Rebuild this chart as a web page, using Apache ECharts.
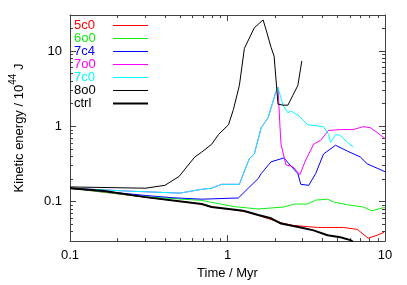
<!DOCTYPE html>
<html><head><meta charset="utf-8">
<script src="https://cdn.jsdelivr.net/npm/echarts@6/dist/echarts.min.js"></script>
<style>html,body{margin:0;padding:0;background:#fff}#c{width:407px;height:285px}</style>
</head><body><div id="c"></div>
<script>
// ---- data (time in Myr, kinetic energy in 1e44 J) ----
var t5c0 = [0.1, 0.301, 0.686, 0.793, 1.107, 1.415, 1.811, 2.283, 2.64, 3.73, 5.45, 6.67, 7.82, 8.91, 9.86];
var e5c0 = [0.151, 0.115, 0.093, 0.085, 0.078, 0.0713, 0.0596, 0.0513, 0.0483, 0.0455, 0.0455, 0.0429, 0.0328, 0.0359, 0.0392];

var t6o0 = [0.1, 0.301, 0.686, 0.793, 0.958, 1.107, 1.567, 2.283, 2.64, 3.23, 3.63, 4.32, 4.71, 5.77, 7.28, 8.28, 9.71, 10];
var e6o0 = [0.151, 0.116, 0.104, 0.098, 0.091, 0.086, 0.080, 0.085, 0.093, 0.093, 0.105, 0.108, 0.099, 0.091, 0.085, 0.0757, 0.083, 0.083];

var t7c4 = [0.1, 0.301, 0.445, 0.686, 1.172, 1.355, 1.567, 1.637, 1.89, 2.283, 2.455, 2.797, 2.918, 3.28, 3.63, 4.07, 4.85, 5.77, 6.97, 7.71, 10];
var e7c4 = [0.151, 0.121, 0.113, 0.108, 0.112, 0.151, 0.203, 0.236, 0.338, 0.381, 0.318, 0.236, 0.17, 0.165, 0.236, 0.429, 0.561, 0.469, 0.392, 0.318, 0.25];

var t7o0 = [0.1, 0.238, 0.5, 0.686, 0.793, 0.917, 1.189, 1.374, 1.479, 1.637, 1.811, 2.033, 2.093, 2.155, 2.187, 2.349, 2.60, 2.878, 3.14, 3.52, 3.90, 4.38, 5.21, 6.29, 7.28, 8.05, 8.91, 10];
var e7o0 = [0.151, 0.138, 0.130, 0.146, 0.151, 0.17, 0.17, 0.37, 0.429, 0.96, 1.30, 2.91, 3.28, 0.96, 0.578, 0.309, 0.291, 0.228, 0.359, 0.578, 0.652, 0.88, 0.906, 0.906, 0.99, 0.96, 0.83, 0.69];

var t7c0 = [0.1, 0.238, 0.5, 0.686, 0.793, 0.917, 1.189, 1.374, 1.479, 1.637, 1.811, 2.033, 2.093, 2.25, 2.42, 2.527, 2.837, 3.23, 4.07, 4.38, 4.51, 4.85, 5.21, 5.77, 6.29];
var e7c0 = [0.151, 0.138, 0.130, 0.146, 0.151, 0.17, 0.17, 0.37, 0.429, 0.96, 1.30, 2.91, 3.28, 1.91, 1.51, 1.6, 1.38, 1.05, 0.99, 0.78, 0.614, 0.78, 0.757, 0.614, 0.529];

var t8o0 = [0.1, 0.301, 0.401, 0.492, 0.62, 0.686, 0.793, 0.877, 1.015, 1.09, 1.19, 1.28, 1.479, 1.683, 1.758, 1.89, 1.976, 2.093, 2.25, 2.42, 2.455, 2.60, 2.797, 2.963];
var e8o0 = [0.157, 0.151, 0.165, 0.216, 0.392, 0.455, 0.578, 0.78, 1.05, 1.67, 3.5, 10.8, 20.3, 25.8, 19.1, 11.2, 8.53, 1.97, 1.91, 1.91, 1.8, 2.58, 3.48, 7.35];

var tCtrl = [0.1, 0.161, 0.301, 0.686, 0.793, 1.26, 1.567, 1.89, 2.187, 2.527, 2.918, 3.52, 4.32, 5.21, 6.03, 6.29];
var eCtrl = [0.151, 0.140, 0.115, 0.093, 0.085, 0.0757, 0.0665, 0.0602, 0.0513, 0.0483, 0.0455, 0.0416, 0.0359, 0.0338, 0.0309, 0.0291];

var names = ['5c0', '6o0', '7c4', '7o0', '7c0', '8o0', 'ctrl'];
var colors = ['#ff0000', '#10ee10', '#0000ff', '#ff00ff', '#00ffff', '#000000', '#000000'];
var widths = [1, 1, 1, 1, 1, 1, 2];
var times = [t5c0, t6o0, t7c4, t7o0, t7c0, t8o0, tCtrl];
var values = [e5c0, e6o0, e7c4, e7o0, e7c0, e8o0, eCtrl];

var xMajor = [0.1, 1, 10];
var xMinor = [0.2, 0.3, 0.4, 0.5, 0.6, 0.7, 0.8, 0.9, 2, 3, 4, 5, 6, 7, 8, 9];
var yMajor = [0.1, 1, 10];
var yMinor = [0.04, 0.05, 0.06, 0.07, 0.08, 0.09, 0.2, 0.3, 0.4, 0.5, 0.6, 0.7, 0.8, 0.9, 2, 3, 4, 5, 6, 7, 8, 9, 20];

function pairs(t, v) { return t.map(function (x, i) { return [x, v[i]]; }); }

var FONT = 'Liberation Sans';
var AX = '#404040';
function fmt(v) { return v < 1 ? String(Math.round(v * 10) / 10) : String(Math.round(v)); }

function mkAxis(kind, pos, major, showLine, label, extra) {
  var ax = {
    type: 'log', logBase: 10,
    min: kind === 'x' ? 0.1 : 0.03, max: kind === 'x' ? 10 : 30,
    position: pos,
    splitLine: { show: false },
    axisLine: { show: showLine, onZero: false, lineStyle: { color: AX, width: 1 } },
    axisTick: { show: true, inside: true, length: major ? 6 : 3, lineStyle: { color: AX, width: 1 },
      customValues: major ? (kind === 'x' ? xMajor : yMajor) : (kind === 'x' ? xMinor : yMinor) },
    axisLabel: { show: label, customValues: kind === 'x' ? xMajor : yMajor, formatter: fmt,
      color: '#000', fontFamily: FONT, fontSize: 13, margin: 8 }
  };
  for (var k in extra) ax[k] = extra[k];
  return ax;
}

var rich = {};
names.forEach(function (n, i) {
  rich['c' + i] = { color: colors[i], fontFamily: FONT, fontSize: 13, width: 34, align: 'left', lineHeight: 13 };
});

var chart = echarts.init(document.getElementById('c'), null, { renderer: 'canvas' });
chart.setOption({
  animation: false,
  backgroundColor: '#fff',
  grid: { left: 67, right: 22, top: 15, bottom: 39, containLabel: false },
  xAxis: [
    mkAxis('x', 'bottom', true, true, true, { name: 'Time / Myr', nameLocation: 'middle', nameGap: 23,
      nameTextStyle: { color: '#000', fontFamily: FONT, fontSize: 13 } }),
    mkAxis('x', 'bottom', false, false, false, {}),
    mkAxis('x', 'top', true, true, false, {}),
    mkAxis('x', 'top', false, false, false, {})
  ],
  yAxis: [
    mkAxis('y', 'left', true, true, true, {
      name: '{a|Kinetic energy / 10}{s|44}{a| J}', nameLocation: 'middle', nameGap: 44, nameRotate: 90,
      nameTextStyle: { color: '#000', fontFamily: FONT, fontSize: 13,
        rich: { a: { fontFamily: FONT, fontSize: 13, color: '#000', lineHeight: 18, verticalAlign: 'bottom' },
                s: { fontFamily: FONT, fontSize: 10, color: '#000', lineHeight: 18, verticalAlign: 'top' } } } }),
    mkAxis('y', 'left', false, false, false, {}),
    mkAxis('y', 'right', true, true, false, {}),
    mkAxis('y', 'right', false, false, false, {})
  ],
  legend: {
    left: 74, top: 19, orient: 'vertical', align: 'right', padding: 0,
    itemWidth: 35, itemHeight: 13, itemGap: 0,
    itemStyle: { opacity: 0, borderWidth: 0 },
    lineStyle: { width: 1 },
    textStyle: { fontFamily: FONT, fontSize: 13, lineHeight: 13, rich: rich },
    formatter: function (n) { return '{c' + names.indexOf(n) + '|' + n + '}'; },
    data: names.map(function (n, i) {
      return widths[i] > 1 ? { name: n, lineStyle: { color: colors[i], width: widths[i] } } : { name: n };
    })
  },
  series: names.map(function (n, i) {
    return {
      name: n, type: 'line', xAxisIndex: 0, yAxisIndex: 0,
      data: pairs(times[i], values[i]),
      showSymbol: false, symbol: 'none', smooth: false, clip: true,
      color: colors[i],
      lineStyle: { color: colors[i], width: widths[i] },
      emphasis: { disabled: true }, z: 2 + i
    };
  })
});
</script>
</body></html>
